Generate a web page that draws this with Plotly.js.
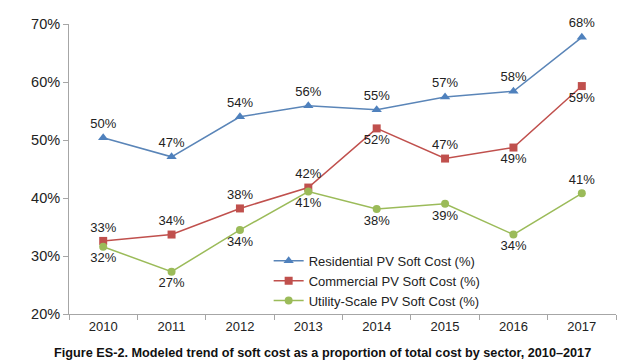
<!DOCTYPE html>
<html><head><meta charset="utf-8">
<script src="https://cdn.plot.ly/plotly-3.0.1.min.js"></script>
<style>html,body{margin:0;padding:0;background:#fff}#c{width:640px;height:362px}</style>
</head><body><div id="c"></div>
<script>
const years = ["2010","2011","2012","2013","2014","2015","2016","2017"];
const residential = [50.4, 47.1, 54.0, 55.9, 55.2, 57.4, 58.4, 67.7];
const commercial = [32.6, 33.7, 38.2, 41.8, 52.0, 46.8, 48.7, 59.3];
const utility = [31.6, 27.3, 34.5, 41.1, 38.1, 39.0, 33.7, 40.8];
const resLabels = ["50%","47%","54%","56%","55%","57%","58%","68%"];
const comLabels = ["33%","34%","38%","42%","52%","47%","49%","59%"];
const utiLabels = ["32%","27%","34%","41%","38%","39%","34%","41%"];
const resPos = ["top center","top center","top center","top center","top center","top center","top center","top center"];
const comPos = ["top center","top center","top center","top center","bottom center","top center","bottom center","bottom center"];
const utiPos = ["bottom center","bottom center","bottom center","bottom center","bottom center","bottom center","bottom center","top center"];
const names = ["Residential PV Soft Cost (%)","Commercial PV Soft Cost (%)","Utility-Scale PV Soft Cost (%)"];

const tf = {family:"Arial, Liberation Sans, sans-serif", size:13, color:"#222"};
function tr(y, lab, pos, name, color, lcolor, sym, size){
  return {x:years, y:y, name:name, type:"scatter", mode:"lines+markers+text",
    text:lab, textposition:pos, textfont:tf,
    line:{color:lcolor, width:1.5}, marker:{color:color, symbol:sym, size:size},
    cliponaxis:false, hoverinfo:"skip"};
}
const data = [
  tr(residential, resLabels, resPos, names[0], "#4F81BD", "#5A85B8", "triangle-up", 9),
  tr(commercial, comLabels, comPos, names[1], "#C0504D", "#C0504D", "square", 8),
  tr(utility, utiLabels, utiPos, names[2], "#9BBB59", "#9BBB59", "circle", 8)
];
const layout = {
  width:640, height:362, paper_bgcolor:"#fff", plot_bgcolor:"#fff",
  margin:{l:69, r:24, t:24, b:48},
  font:{family:"Arial, Liberation Sans, sans-serif", size:14, color:"#222"},
  showlegend:true,
  legend:{x:0.365, y:0.235, xanchor:"left", yanchor:"top", bgcolor:"rgba(0,0,0,0)",
    font:{size:13, color:"#222"}, itemwidth:30, tracegroupgap:0},
  xaxis:{type:"category", range:[-0.5,7.5], showline:true, linecolor:"#a6a6a6", linewidth:1,
    ticks:"outside", tickson:"boundaries", ticklen:5, tickcolor:"#a6a6a6", showgrid:false,
    zeroline:false, tickfont:{size:13, color:"#222"}},
  yaxis:{range:[20,70], dtick:10, ticksuffix:"%", showline:true, linecolor:"#a6a6a6", linewidth:1,
    ticks:"outside", ticklen:5, tickcolor:"#a6a6a6", showgrid:false, zeroline:false,
    tickfont:{size:14.5, color:"#222"}},
  annotations:[{xref:"paper", yref:"paper", x:0.463, y:-0.134, xanchor:"center", yanchor:"middle",
    showarrow:false, text:"<b>Figure ES-2. Modeled trend of soft cost as a proportion of total cost by sector, 2010–2017</b>",
    font:{size:12.7, color:"#111"}}]
};
Plotly.newPlot("c", data, layout, {displayModeBar:false, staticPlot:true});
</script></body></html>
